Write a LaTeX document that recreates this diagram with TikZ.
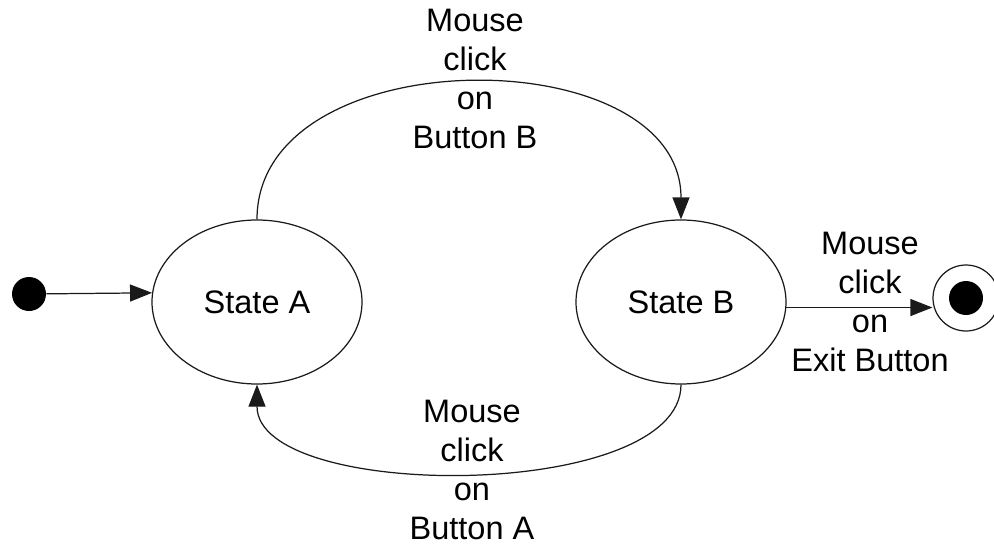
\documentclass[tikz,border=0pt]{standalone}
\usepackage{fontspec}
\setmainfont{Liberation Sans}
\usepackage{tikz}
\usetikzlibrary{arrows.meta,positioning,shapes.geometric}
\definecolor{ink}{HTML}{1A1A1A}
\tikzset{
  statebox/.style={
    ellipse, draw=ink, line width=0.7pt,
    minimum width=4.2cm, minimum height=3.28cm,
    inner sep=0pt, font=\fontsize{18.5}{22}\selectfont
  },
  startdot/.style={circle, fill=black, minimum size=0.68cm, inner sep=0pt},
  endring/.style={circle, draw=ink, line width=0.7pt, minimum size=1.32cm, inner sep=0pt},
  enddot/.style={circle, fill=black, minimum size=0.68cm, inner sep=0pt},
  trans/.style={
    -{Triangle[length=0.44cm,width=0.34cm]}, line width=0.7pt, color=ink
  },
  evlabel/.style={align=center, font=\fontsize{18.5}{22.2}\selectfont, inner sep=0pt},
}

\begin{document}
\begin{tikzpicture}
  \useasboundingbox (0,0) rectangle (19.88,-10.88);
  \node[statebox] (sa) at (5.14,-6.04) {State A};
  \node[statebox] (sb) at (13.62,-6.04) {State B};
  \node[startdot] (init) at (0.58,-5.88) {};
  \node[endring] (fin) at (19.32,-5.96) {};
  \node[enddot] (finin) at (fin.center) {};
  % transitions
  \draw[trans] (init) -- (sa.175.6);
  \draw[trans] (sa.north) to[out=90, in=90, looseness=1.1] (sb.north);
  \draw[trans] (sb.south) to[out=-90, in=-90, looseness=0.71] (sa.south);
  \draw[trans] (sb.-3.3) -- (sb.-3.3 -| fin.west);
  % event labels
  \node[evlabel] (lb) at (9.5,-1.57) {Mouse\\click\\on\\Button B};
  \node[evlabel] (la) at (9.44,-9.4) {Mouse\\click\\on\\Button A};
  \node[evlabel] (lx) at (17.4,-6.04) {Mouse\\click\\on\\Exit Button};
\end{tikzpicture}
\end{document}
